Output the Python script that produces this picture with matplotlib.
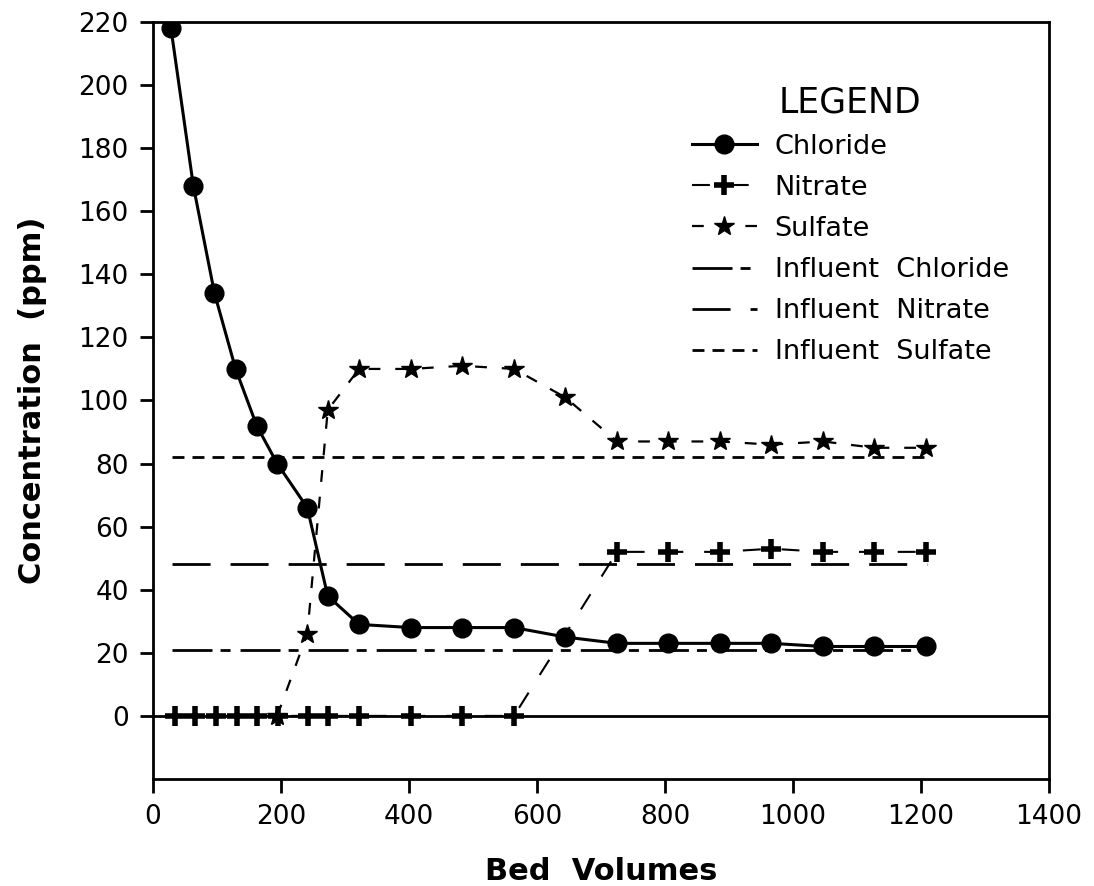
import numpy as np
import matplotlib.pyplot as plt

plt.rcParams['font.family'] = 'DejaVu Sans'

# sampling points (bed volumes)
bv_chloride = [28, 63, 96, 129, 162, 194, 241, 273, 322, 403, 483, 564,
               644, 725, 805, 886, 966, 1047, 1127, 1208]
chloride = [218, 168, 134, 110, 92, 80, 66, 38, 29, 28, 28, 28,
            25, 23, 23, 23, 23, 22, 22, 22]

bv_nitrate = [34, 66, 99, 131, 163, 195, 242, 273, 322, 403, 483, 564,
              725, 805, 886, 966, 1047, 1127, 1208]
nitrate = [0, 0, 0, 0, 0, 0, 0, 0, 0, 0, 0, 0,
           52, 52, 52, 53, 52, 52, 52]

bv_sulfate = [194, 241, 273, 322, 403, 483, 564, 644, 725, 805, 886,
              966, 1047, 1127, 1208]
sulfate = [0, 26, 97, 110, 110, 111, 110, 101, 87, 87, 87, 86, 87, 85, 85]

# influent concentrations
influent_x = [30, 1210]
infl_chloride = 21
infl_nitrate = 48
infl_sulfate = 82

fig = plt.figure(figsize=(10.94, 8.86), dpi=100)
ax = fig.add_axes([0.1399, 0.1208, 0.8190, 0.8544])

ax.axhline(0, color='black', lw=2, zorder=1)

ax.plot(bv_chloride, chloride, color='black', lw=2.2, marker='o',
        markersize=13.5, label='Chloride', zorder=4)
ax.plot(bv_nitrate, nitrate, color='black', lw=1.5, dashes=(8.6, 10),
        marker='+', markersize=15, markeredgewidth=4, label='Nitrate', zorder=4)
ax.plot(bv_sulfate, sulfate, color='black', lw=1.6, dashes=(5.3, 6.7),
        marker='*', markersize=15, label='Sulfate', zorder=4)

ax.plot(influent_x, [infl_chloride] * 2, color='black', lw=2,
        dashes=(14.4, 2.9, 3.6, 3.6), label='Influent  Chloride', zorder=2)
ax.plot(influent_x, [infl_nitrate] * 2, color='black', lw=2,
        dashes=(13.7, 7.2), label='Influent  Nitrate', zorder=2)
ax.plot(influent_x, [infl_sulfate] * 2, color='black', lw=2,
        dashes=(4.3, 2.9), label='Influent  Sulfate', zorder=2)

ax.set_xlim(0, 1400)
ax.set_ylim(-20, 220)
ax.set_xticks(np.arange(0, 1401, 200))
ax.set_yticks(np.arange(0, 221, 20))

for s in ax.spines.values():
    s.set_linewidth(2)
ax.tick_params(axis='both', direction='out', width=2, labelsize=19)
ax.tick_params(axis='y', length=9.5, pad=8)
ax.tick_params(axis='x', length=10, pad=8)

ax.set_xlabel('Bed  Volumes', fontsize=22, fontweight='bold')
ax.set_ylabel('Concentration  (ppm)', fontsize=22, fontweight='bold')
ax.xaxis.set_label_coords(0.5, -0.103)
ax.yaxis.set_label_coords(-0.118, 0.5)

leg = ax.legend(title='LEGEND', frameon=False, loc='upper left',
                bbox_to_anchor=(0.574, 0.948), fontsize=19.5,
                handlelength=2.4, handletextpad=0.66, labelspacing=0.56)
leg.get_title().set_fontsize(25)
leg._legend_box.sep = 10

fig.savefig('out.png', dpi=100)
